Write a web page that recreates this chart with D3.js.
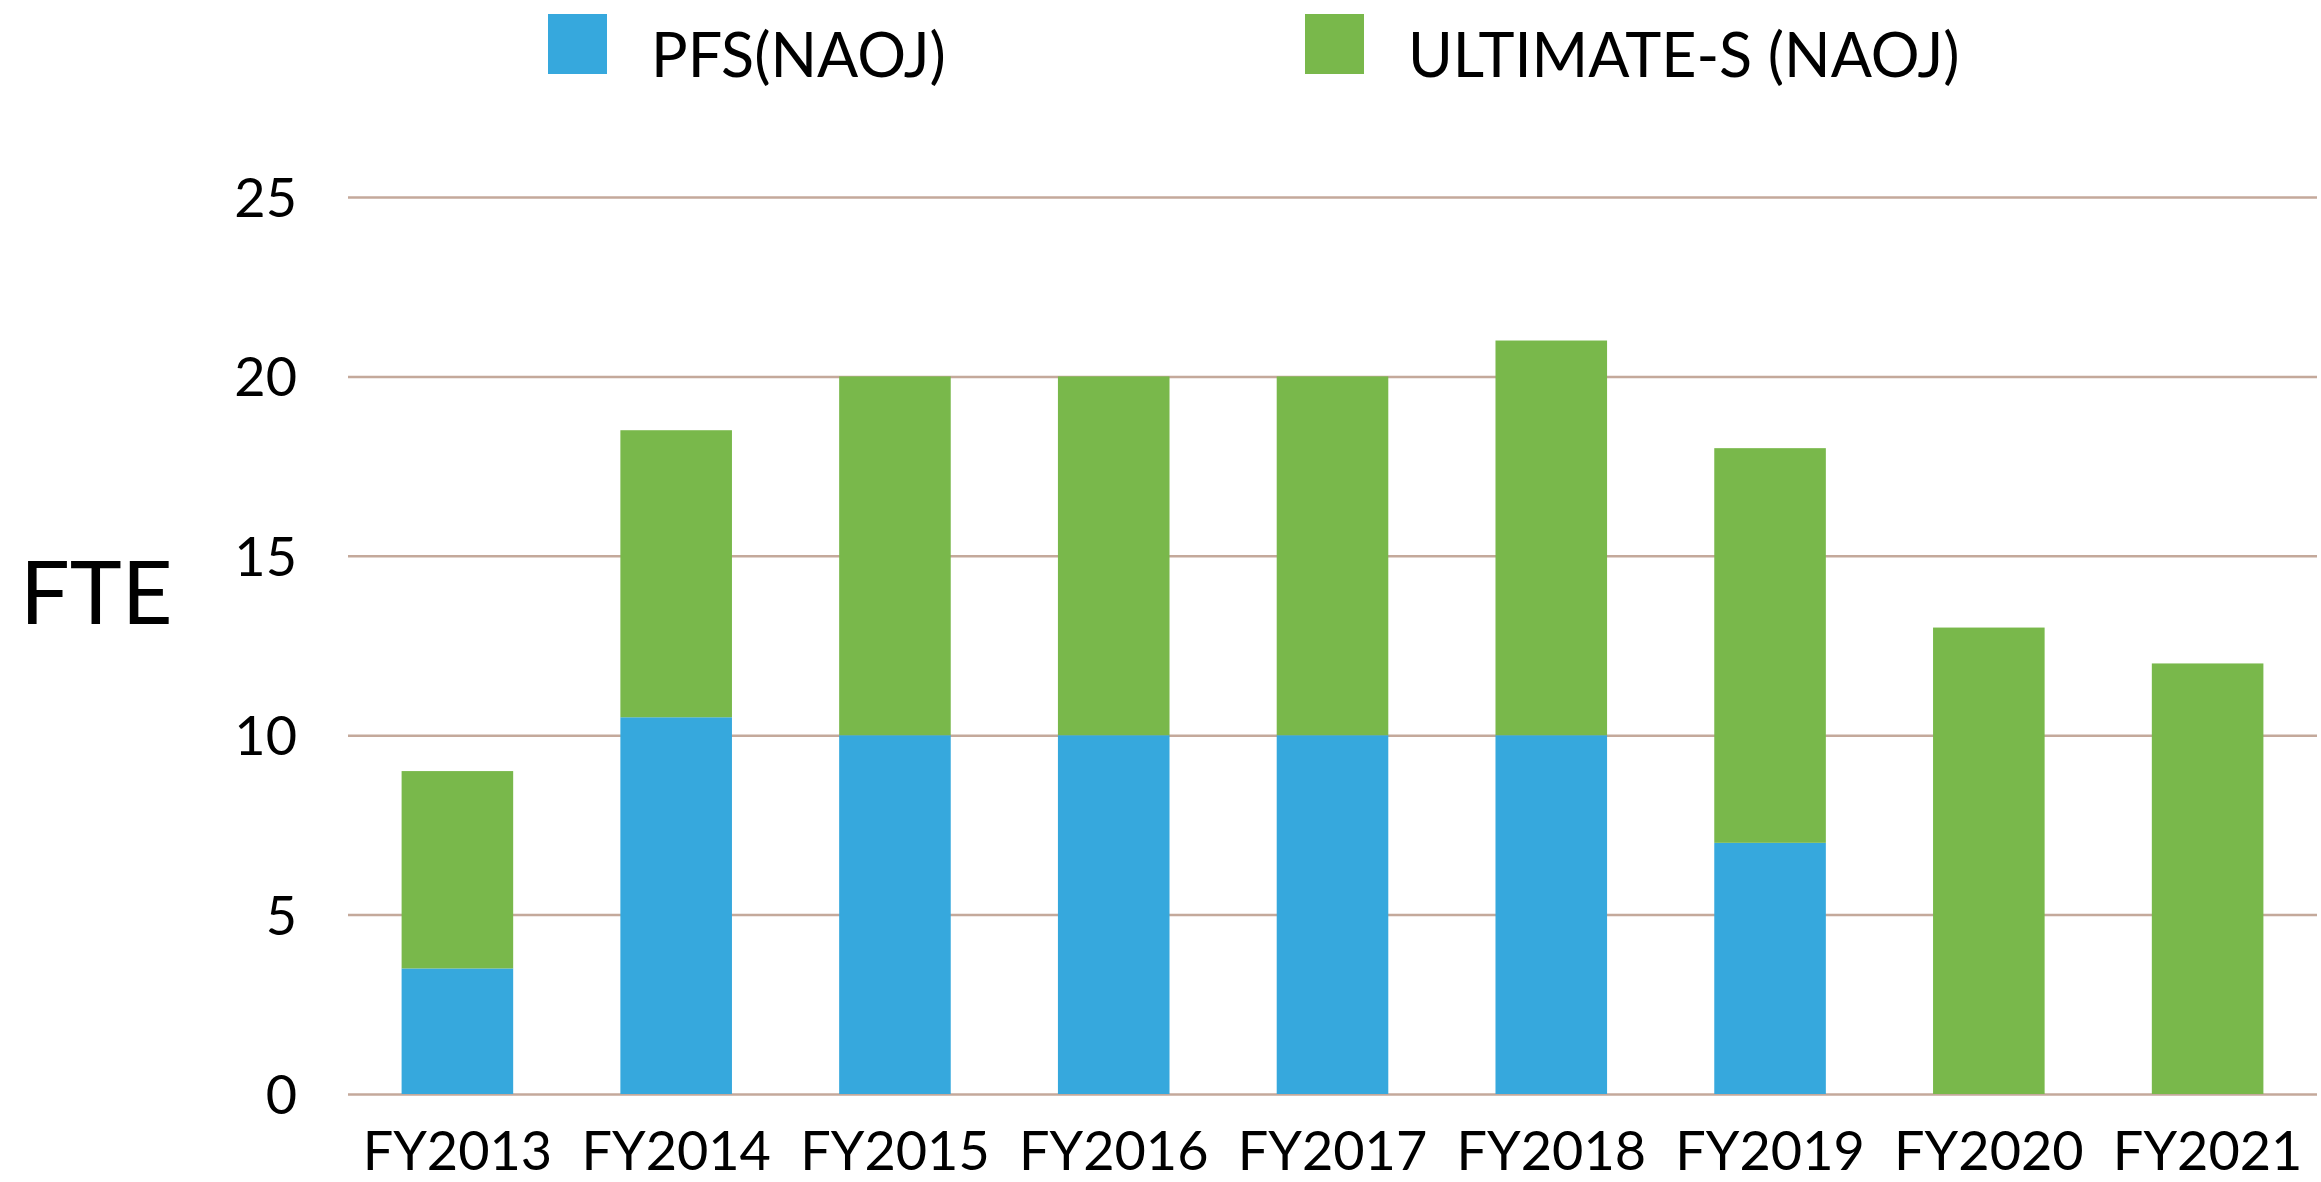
<!DOCTYPE html>
<html>
<head>
<meta charset="utf-8">
<script src="https://cdn.jsdelivr.net/npm/d3@7"></script>
<style>
  html, body { margin: 0; padding: 0; background: #fff; }
  svg text { font-family: Lato, "Noto Sans", sans-serif; fill: #000; }
</style>
</head>
<body>
<svg id="chart" width="2321" height="1182"></svg>
<script>
// chart data
const years = ['FY2013', 'FY2014', 'FY2015', 'FY2016', 'FY2017', 'FY2018', 'FY2019', 'FY2020', 'FY2021'];
const pfs = [3.5, 10.5, 10, 10, 10, 10, 7, 0, 0];
const ultimate = [5.5, 8, 10, 10, 10, 11, 11, 13, 12];
const seriesNames = ['PFS(NAOJ)', 'ULTIMATE-S (NAOJ)'];
const yTicks = [0, 5, 10, 15, 20, 25];

const colors = ['#36a8dd', '#79b84b'];
const gridColor = '#c4a99b';

// table for the stack layout
const rows = years.map((y, i) => ({year: y, pfs: pfs[i], ultimate: ultimate[i]}));

const margin = {top: 197, right: 4, bottom: 88, left: 348},
      width = 2321 - margin.left - margin.right,
      height = 1182 - margin.top - margin.bottom;

const svg = d3.select('#chart')
  .append('g')
    .attr('transform', `translate(${margin.left},${margin.top})`);

const x = d3.scaleBand()
  .domain(years)
  .range([0, width])
  .paddingInner(0.49)
  .paddingOuter(0.245);

const y = d3.scaleLinear()
  .domain([0, 25])
  .range([height, 0]);

// gridlines + y labels
const yAxis = svg.append('g')
  .call(d3.axisLeft(y).tickValues(yTicks).tickSizeInner(-width).tickSizeOuter(0).tickPadding(51));
yAxis.select('.domain').remove();
yAxis.selectAll('line').attr('stroke', gridColor).attr('stroke-width', 2.5);
yAxis.selectAll('text').style('font-size', '54px').attr('dy', '0.36em');

// stacked bars
const stack = d3.stack().keys(['pfs', 'ultimate']);
const layers = stack(rows);

svg.selectAll('g.layer')
  .data(layers)
  .enter()
  .append('g')
    .attr('class', 'layer')
    .attr('fill', (d, i) => colors[i])
  .selectAll('rect')
  .data(d => d.filter(p => p[1] - p[0] > 0))
  .enter()
  .append('rect')
    .attr('x', d => x(d.data.year))
    .attr('width', x.bandwidth())
    .attr('y', d => y(d[1]))
    .attr('height', d => y(d[0]) - y(d[1]));

// x labels
const xAxis = svg.append('g')
  .attr('transform', `translate(0,${height})`)
  .call(d3.axisBottom(x).tickSize(0).tickPadding(38));
xAxis.select('.domain').remove();
xAxis.selectAll('text').style('font-size', '54px');

// axis title
d3.select('#chart').append('text')
  .attr('x', 20)
  .attr('y', 624)
  .style('font-size', '88px')
  .text('FTE');

// legend
const legendX = [548, 1305];
const legend = d3.select('#chart').selectAll('g.legend')
  .data(seriesNames)
  .enter()
  .append('g')
    .attr('class', 'legend')
    .attr('transform', (d, i) => `translate(${legendX[i]},14)`);

legend.append('rect')
  .attr('width', 59)
  .attr('height', 60)
  .attr('fill', (d, i) => colors[i]);

legend.append('text')
  .attr('x', 103)
  .attr('y', 63)
  .style('font-size', '61px')
  .text(d => d);
</script>
</body>
</html>
